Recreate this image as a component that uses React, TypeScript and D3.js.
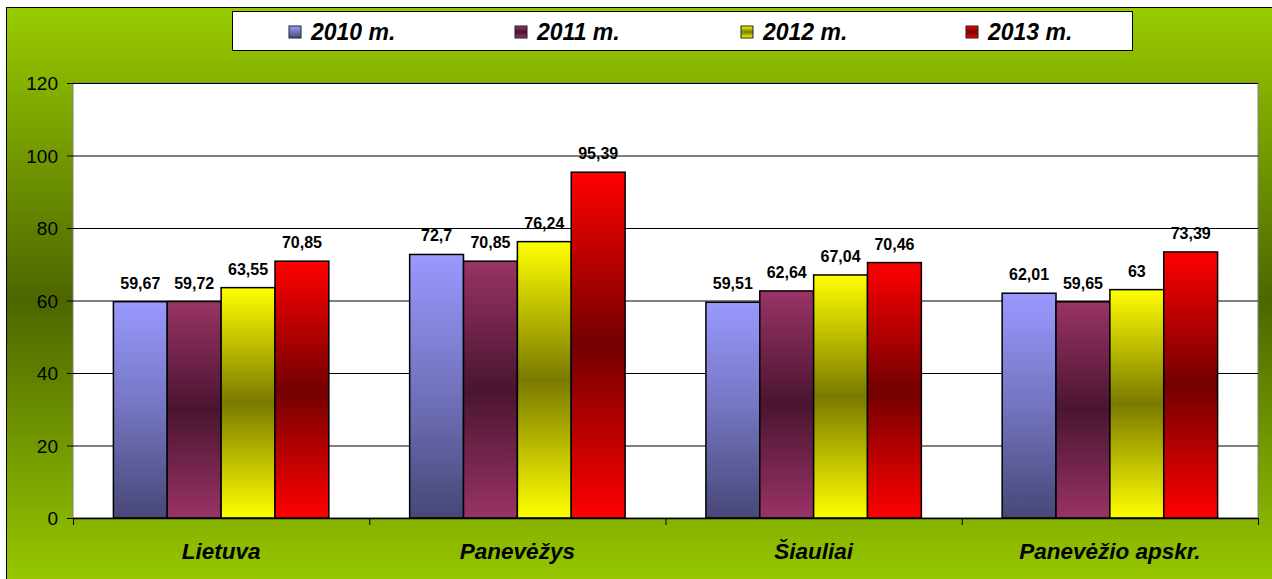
import React from 'react';
import * as d3 from 'd3';

// chart values
const categories = ['Lietuva', 'Panevėžys', 'Šiauliai', 'Panevėžio apskr.'];
const seriesNames = ['2010 m.', '2011 m.', '2012 m.', '2013 m.'];
const values2010 = [59.67, 72.7, 59.51, 62.01];
const values2011 = [59.72, 70.85, 62.64, 59.65];
const values2012 = [63.55, 76.24, 67.04, 63];
const values2013 = [70.85, 95.39, 70.46, 73.39];
const yTicks = [0, 20, 40, 60, 80, 100, 120];

const series = [values2010, values2011, values2012, values2013];

// gradient stops per series: [top, middle, bottom]
const gradStops = [
  ['#9999ff', '#7474c0', '#474777'],
  ['#993366', '#4a1530', '#993366'],
  ['#ffff00', '#7a7a00', '#ffff00'],
  ['#ff0000', '#730000', '#ff0000'],
];

const W = 1272;
const H = 579;
const plot = { left: 73, top: 83, right: 1258, bottom: 518 };

const fmt = (v: number) => String(v).replace('.', ',');

export default function App() {
  const x0 = d3
    .scaleBand<string>()
    .domain(categories)
    .range([plot.left, plot.right]);
  // Excel style gap width 150%
  const groupPad = 1.5 / (4 + 1.5);
  const inner = x0.bandwidth() * (1 - groupPad);
  const x1 = d3
    .scaleBand<string>()
    .domain(seriesNames)
    .range([0, inner]);
  const y = d3.scaleLinear().domain([0, 120]).range([plot.bottom, plot.top]);

  const legendX = [289, 515, 741, 966];

  return (
    <div style={{ position: 'fixed', left: 0, top: 0 }}>
      <svg width={W} height={H} style={{ display: 'block', fontFamily: 'Arial, "Liberation Sans", sans-serif' }}>
        <defs>
          <linearGradient id="bg" x1="0" y1="0" x2="0" y2="1">
            <stop offset="0" stopColor="#99cc00" />
            <stop offset="0.5" stopColor="#4d6600" />
            <stop offset="1" stopColor="#99cc00" />
          </linearGradient>
          {gradStops.map((s, i) => (
            <linearGradient key={i} id={`g${i}`} x1="0" y1="0" x2="0" y2="1">
              <stop offset="0" stopColor={s[0]} />
              <stop offset="0.5" stopColor={s[1]} />
              <stop offset="1" stopColor={s[2]} />
            </linearGradient>
          ))}
        </defs>

        <rect x={0} y={0} width={W} height={H} fill="#fff" />
        <rect x={6.5} y={7.5} width={W + 20} height={586} fill="url(#bg)" stroke="#000" strokeWidth={1} />

        {/* plot area */}
        <rect
          x={plot.left}
          y={plot.top}
          width={plot.right - plot.left}
          height={plot.bottom - plot.top}
          fill="#fff"
          stroke="#808080"
          strokeWidth={1}
        />

        {/* gridlines and y axis */}
        {yTicks.map((t) => (
          <g key={t}>
            {t > 0 && (
              <line x1={plot.left} x2={plot.right} y1={y(t) + 0.5} y2={y(t) + 0.5} stroke="#000" strokeWidth={1} />
            )}
            <line x1={plot.left - 6} x2={plot.left} y1={y(t) + 0.5} y2={y(t) + 0.5} stroke="#000" strokeWidth={1} />
            <text x={plot.left - 15} y={y(t) + 7} textAnchor="end" fontSize={19} fill="#000">
              {t}
            </text>
          </g>
        ))}

        {/* bars */}
        {categories.map((c, ci) => {
          const gx = (x0(c) as number) + (x0.bandwidth() - inner) / 2;
          return (
            <g key={c}>
              {series.map((vals, si) => {
                const bx = gx + (x1(seriesNames[si]) as number);
                const by = y(vals[ci]);
                return (
                  <g key={si}>
                    <rect
                      x={bx}
                      y={by}
                      width={x1.bandwidth()}
                      height={plot.bottom - by}
                      fill={`url(#g${si})`}
                      stroke="#000"
                      strokeWidth={1.5}
                    />
                    <text
                      x={bx + x1.bandwidth() / 2}
                      y={by - 13}
                      textAnchor="middle"
                      fontSize={16}
                      fontWeight="bold"
                      fill="#000"
                    >
                      {fmt(vals[ci])}
                    </text>
                  </g>
                );
              })}
              <text
                x={(x0(c) as number) + x0.bandwidth() / 2}
                y={559}
                textAnchor="middle"
                fontSize={22.5}
                fontWeight="bold"
                fontStyle="italic"
                fill="#000"
              >
                {c}
              </text>
            </g>
          );
        })}

        {/* x axis */}
        <line x1={plot.left} x2={plot.right} y1={plot.bottom + 0.5} y2={plot.bottom + 0.5} stroke="#000" strokeWidth={1.5} />
        {[...categories.map((c) => x0(c) as number), plot.right].map((tx, i) => (
          <line key={i} x1={tx + 0.5} x2={tx + 0.5} y1={plot.bottom} y2={plot.bottom + 7} stroke="#000" strokeWidth={1} />
        ))}

        {/* legend */}
        <rect x={232.5} y={11.5} width={900} height={39} fill="#fff" stroke="#000" strokeWidth={1} />
        {seriesNames.map((s, i) => (
          <g key={s}>
            <rect x={legendX[i]} y={26} width={12} height={12} fill={`url(#g${i})`} stroke="#222" strokeWidth={1} />
            <text x={legendX[i] + 22} y={40} fontSize={23} fontWeight="bold" fontStyle="italic" fill="#000">
              {s}
            </text>
          </g>
        ))}
      </svg>
    </div>
  );
}
